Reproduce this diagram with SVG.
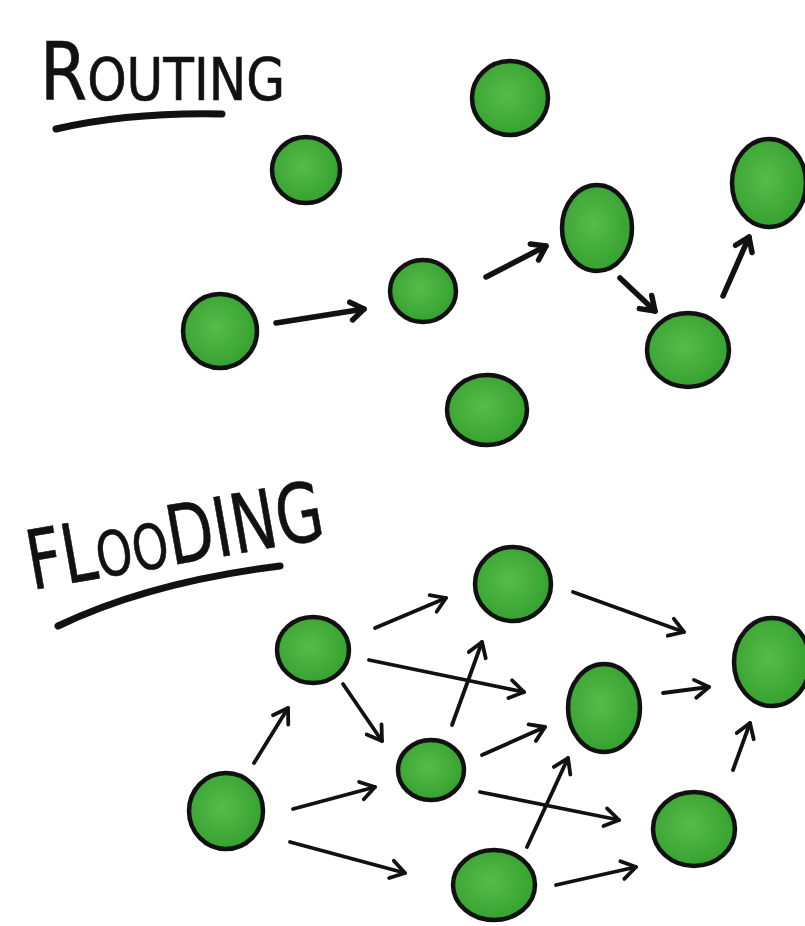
<svg xmlns="http://www.w3.org/2000/svg" width="805" height="926" viewBox="0 0 805 926">
<defs>
  <radialGradient id="g" cx="45%" cy="45%" r="60%">
    <stop offset="0" stop-color="#58bb4a"/>
    <stop offset="0.7" stop-color="#3ea836"/>
    <stop offset="1" stop-color="#33a02e"/>
  </radialGradient>
  <marker id="ah" markerUnits="userSpaceOnUse" viewBox="-20 -12 24 24" markerWidth="24" markerHeight="24" refX="0" refY="0" orient="auto">
    <path d="M-14,-9 L0,0 L-14,9" fill="none" stroke="#111" stroke-width="3.8" stroke-linecap="round" stroke-linejoin="round"/>
  </marker>
  <marker id="ahb" markerUnits="userSpaceOnUse" viewBox="-20 -12 24 24" markerWidth="24" markerHeight="24" refX="0" refY="0" orient="auto">
    <path d="M-13,-9 L0,0 L-13,9" fill="none" stroke="#111" stroke-width="5.5" stroke-linecap="round" stroke-linejoin="round"/>
  </marker>
</defs>
<style>
  .node { fill: url(#g); stroke: #111; stroke-width: 4.5; }
  .title { font-family: "DejaVu Sans Condensed", "DejaVu Sans", sans-serif; fill: #111; stroke: #111; stroke-width: 0.6; }
  .ul { fill: none; stroke: #111; stroke-width: 7; stroke-linecap: round; }
  .r { fill: none; stroke: #111; stroke-width: 5.5; stroke-linecap: round; marker-end: url(#ahb); }
  .f { fill: none; stroke: #111; stroke-width: 3.8; stroke-linecap: round; marker-end: url(#ah); }
</style>
<rect width="805" height="926" fill="#ffffff"/>

<g id="title-routing">
  <text class="title" x="40" y="100" textLength="245" lengthAdjust="spacingAndGlyphs"><tspan font-size="80">R</tspan><tspan font-size="59">OUTING</tspan></text>
  <path class="ul" d="M56,129 Q130,112 222,114"/>
</g>

<g id="r-n1"><ellipse class="node" cx="306" cy="170" rx="34" ry="33"/></g>
<g id="r-n2"><ellipse class="node" cx="510" cy="98" rx="38" ry="37"/></g>
<g id="r-src"><ellipse class="node" cx="220" cy="331" rx="37" ry="37"/></g>
<g id="r-n4"><ellipse class="node" cx="423" cy="291" rx="33" ry="31"/></g>
<g id="r-n5"><ellipse class="node" cx="597" cy="228" rx="35" ry="43"/></g>
<g id="r-n6"><ellipse class="node" cx="769" cy="183" rx="37" ry="44"/></g>
<g id="r-n7"><ellipse class="node" cx="688" cy="350" rx="41" ry="37"/></g>
<g id="r-n8"><ellipse class="node" cx="487" cy="410" rx="40" ry="35"/></g>

<g id="routing-connectors">
  <path class="r" d="M276,323 L364,309"/>
  <path class="r" d="M486,277 L546,246"/>
  <path class="r" d="M620,278 L655,311"/>
  <path class="r" d="M723,296 L749,237"/>
</g>

<g id="title-flooding">
  <text class="title" transform="translate(32,590) rotate(-10)" x="0" y="0" textLength="300" lengthAdjust="spacingAndGlyphs"><tspan font-size="82">FL</tspan><tspan font-size="62">OO</tspan><tspan font-size="82">DING</tspan></text>
  <path class="ul" d="M58,626 Q150,582 280,566"/>
</g>

<g id="f-a"><ellipse class="node" cx="226" cy="811" rx="37" ry="38"/></g>
<g id="f-b"><ellipse class="node" cx="313" cy="650" rx="36" ry="33"/></g>
<g id="f-c"><ellipse class="node" cx="431" cy="770" rx="33" ry="30"/></g>
<g id="f-d"><ellipse class="node" cx="513" cy="584" rx="38" ry="37"/></g>
<g id="f-e"><ellipse class="node" cx="494" cy="885" rx="41" ry="35"/></g>
<g id="f-f"><ellipse class="node" cx="604" cy="708" rx="36" ry="44"/></g>
<g id="f-g"><ellipse class="node" cx="772" cy="662" rx="38" ry="44"/></g>
<g id="f-h"><ellipse class="node" cx="694" cy="829" rx="41" ry="37"/></g>

<g id="flooding-connectors">
  <path class="f" d="M254,763 L288,708"/>
  <path class="f" d="M293,809 L375,787"/>
  <path class="f" d="M290,842 L405,873"/>
  <path class="f" d="M375,628 L446,598"/>
  <path class="f" d="M369,660 L524,692"/>
  <path class="f" d="M343,684 L382,741"/>
  <path class="f" d="M452,725 L482,642"/>
  <path class="f" d="M482,755 L545,727"/>
  <path class="f" d="M480,792 L619,820"/>
  <path class="f" d="M527,847 L568,758"/>
  <path class="f" d="M556,885 L636,867"/>
  <path class="f" d="M573,592 L684,632"/>
  <path class="f" d="M663,693 L709,687"/>
  <path class="f" d="M733,770 L750,723"/>
</g>
</svg>
